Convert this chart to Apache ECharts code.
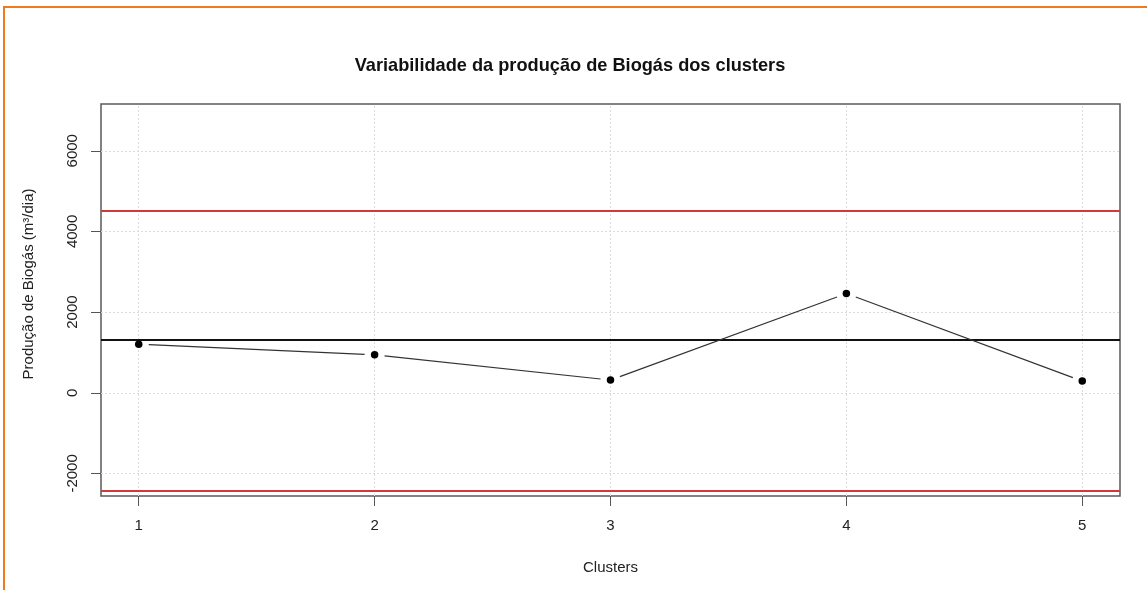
<!DOCTYPE html>
<html>
<head>
<meta charset="utf-8">
<script src="https://cdn.jsdelivr.net/npm/echarts@6/dist/echarts.min.js"></script>
<style>
  html, body { margin: 0; padding: 0; background: #fff; }
  #chart { width: 1147px; height: 590px; }
</style>
</head>
<body>
<div id="chart"></div>
<script>
// Biogas production per cluster, with the overall mean and control limits
const clusters = [1, 2, 3, 4, 5];
const biogas = [1205, 941, 314, 2460, 290];
const meanLine = 1304;
const upperLimit = 4522;
const lowerLimit = -2440;
const xTicks = [1, 2, 3, 4, 5];
const yTicks = [-2000, 0, 2000, 4000, 6000];
const xRange = [0.84, 5.16];
const yRange = [-2560, 7160];

const FONT = 'Liberation Sans, Arial, sans-serif';

const points = clusters.map((c, i) => [c, biogas[i]]);
// consecutive point pairs for the connecting segments
const segments = [];
for (let i = 0; i < points.length - 1; i++) {
  segments.push([points[i][0], points[i][1], points[i + 1][0], points[i + 1][1]]);
}

const chart = echarts.init(document.getElementById('chart'), null, { renderer: 'canvas' });

const gridLines = [
  ...xTicks.map(v => ({ xAxis: v })),
  ...yTicks.map(v => ({ yAxis: v }))
];

chart.setOption({
  animation: false,
  backgroundColor: '#ffffff',
  title: {
    text: 'Variabilidade da produção de Biogás dos clusters',
    left: 565,
    top: 52,
    textAlign: 'center',
    textStyle: { fontFamily: FONT, fontSize: 18.2, fontWeight: 'bold', color: '#111' }
  },
  graphic: [
    // page frame
    { type: 'line', shape: { x1: 3, y1: 7, x2: 1147, y2: 7 }, style: { stroke: '#f07a1e', lineWidth: 2 }, z: 10 },
    { type: 'line', shape: { x1: 4, y1: 6, x2: 4, y2: 590 }, style: { stroke: '#f07a1e', lineWidth: 2 }, z: 10 },
    {
      type: 'text',
      x: 29, y: 284,
      rotation: Math.PI / 2,
      style: {
        text: 'Produção de Biogás (m³/dia)',
        fontFamily: FONT, fontSize: 15, fill: '#222',
        align: 'center', verticalAlign: 'middle'
      }
    }
  ],
  grid: {
    left: 101, top: 104, width: 1019, height: 392,
    show: true, borderColor: '#5a5a5a', borderWidth: 1.5, backgroundColor: 'transparent'
  },
  xAxis: {
    type: 'value',
    min: xRange[0], max: xRange[1],
    name: 'Clusters',
    nameLocation: 'middle',
    nameGap: 64,
    nameTextStyle: { fontFamily: FONT, fontSize: 15, color: '#222' },
    axisLine: { show: false, onZero: false },
    axisTick: { show: true, length: 10, customValues: xTicks, lineStyle: { color: '#555' } },
    axisLabel: { customValues: xTicks, margin: 22, fontFamily: FONT, fontSize: 15, color: '#222',
                 formatter: v => String(v) },
    splitLine: { show: false }
  },
  yAxis: {
    type: 'value',
    min: yRange[0], max: yRange[1],
    axisLine: { show: false, onZero: false },
    axisTick: { show: true, length: 10, customValues: yTicks, lineStyle: { color: '#555' } },
    axisLabel: { customValues: yTicks, rotate: 90, margin: 21, fontFamily: FONT, fontSize: 15, color: '#222',
                 formatter: v => String(v) },
    splitLine: { show: false }
  },
  series: [
    {
      // dotted background grid
      type: 'line',
      data: [],
      z: 1,
      silent: true,
      markLine: {
        silent: true, symbol: 'none', z: 1,
        label: { show: false },
        lineStyle: { color: '#dcdcdc', type: [2, 2], width: 1 },
        data: gridLines
      }
    },
    {
      // connecting segments, broken around each point
      type: 'custom',
      z: 3,
      silent: true,
      data: segments,
      renderItem: function (params, api) {
        const a = api.coord([api.value(0), api.value(1)]);
        const b = api.coord([api.value(2), api.value(3)]);
        const dx = b[0] - a[0], dy = b[1] - a[1];
        const len = Math.sqrt(dx * dx + dy * dy);
        const gap = 10;
        const ux = dx / len, uy = dy / len;
        return {
          type: 'line',
          shape: {
            x1: a[0] + ux * gap, y1: a[1] + uy * gap,
            x2: b[0] - ux * gap, y2: b[1] - uy * gap
          },
          style: { stroke: '#333', lineWidth: 1.2 }
        };
      }
    },
    {
      type: 'scatter',
      z: 4,
      data: points,
      symbol: 'circle',
      symbolSize: 7.5,
      itemStyle: { color: '#000', opacity: 1 },
      markLine: {
        silent: true, symbol: 'none', z: 2,
        label: { show: false },
        data: [
          { yAxis: upperLimit, lineStyle: { color: '#d23a3a', width: 2, type: 'solid' } },
          { yAxis: lowerLimit, lineStyle: { color: '#d23a3a', width: 2, type: 'solid' } },
          { yAxis: meanLine, lineStyle: { color: '#111', width: 2, type: 'solid' } }
        ]
      }
    }
  ]
});
</script>
</body>
</html>
